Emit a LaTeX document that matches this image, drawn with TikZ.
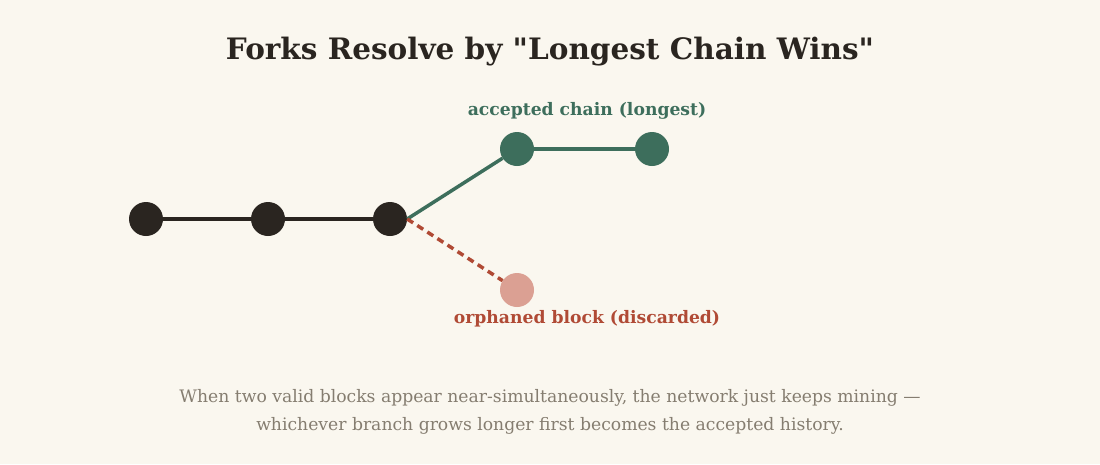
\documentclass[tikz,border=0pt]{standalone}
\usepackage{fontspec}
\setmainfont{DejaVu Serif}[Ligatures=TeXOff]
\definecolor{bg}{HTML}{FAF7EF}
\definecolor{ink}{HTML}{2A2520}
\definecolor{grn}{HTML}{3D6E5C}
\definecolor{pnk}{HTML}{DBA093}
\definecolor{rd}{HTML}{B04A35}
\definecolor{gry}{HTML}{857D70}
\begin{document}
\begin{tikzpicture}[x=1pt,y=-1pt,
  blk/.style={circle,minimum size=34pt,inner sep=0pt,fill=#1},
  link/.style={line width=3.5pt,draw=#1},
  lbl/.style={font=\fontsize{17.2}{20}\selectfont\bfseries,text=#1}]
\fill[bg] (0,0) rectangle (1100,464);
\useasboundingbox (0,0) rectangle (1100,464);
\node[font=\fontsize{29.5}{34}\selectfont\bfseries,text=ink] (title) at (550,52) {Forks Resolve by "Longest Chain Wins"};
\node[blk=ink] (b1) at (146,219) {};
\node[blk=ink] (b2) at (268,219) {};
\node[blk=ink] (b3) at (390,219) {};
\node[blk=grn] (g1) at (517,149) {};
\node[blk=grn] (g2) at (652,149) {};
\node[blk=pnk] (o1) at (517,290) {};
\draw[link=ink] (b1) -- (b2);
\draw[link=ink] (b2) -- (b3);
\draw[link=grn] (b3.east) -- (g1);
\draw[link=grn] (g1) -- (g2);
\draw[link=rd,dash pattern=on 7pt off 5pt] (b3.east) -- (o1);
\node[lbl=grn] (la) at (587,111) {accepted chain (longest)};
\node[lbl=rd] (lo) at (587,319) {orphaned block (discarded)};
\node[font=\fontsize{17.2}{28}\selectfont,text=gry,align=center] (cap) at (550,412) {When two valid blocks appear near-simultaneously, the network just keeps mining —\\whichever branch grows longer first becomes the accepted history.};
\end{tikzpicture}
\end{document}
